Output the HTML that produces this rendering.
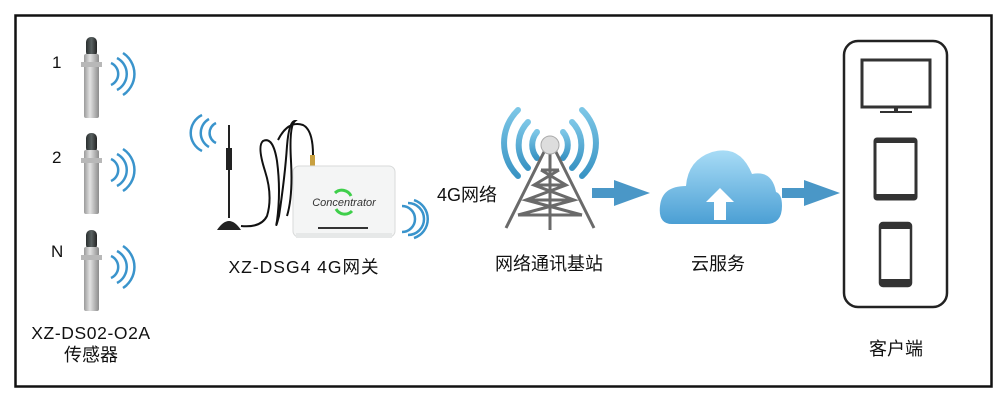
<!DOCTYPE html>
<html><head><meta charset="utf-8"><style>
html,body{margin:0;padding:0;background:#fff;width:1000px;height:401px;overflow:hidden}
svg{display:block}
text{font-family:"Liberation Sans","Noto Sans CJK SC",sans-serif;fill:#111}
</style></head><body>
<svg width="1000" height="401" viewBox="0 0 1000 401" xmlns="http://www.w3.org/2000/svg">
<defs>
<linearGradient id="metal" x1="0" x2="1"><stop offset="0" stop-color="#9a9a9a"/><stop offset=".4" stop-color="#e2e2e2"/><stop offset="1" stop-color="#8c8c8c"/></linearGradient>
<linearGradient id="cap" x1="0" x2="1"><stop offset="0" stop-color="#2a2f2f"/><stop offset=".5" stop-color="#5a6262"/><stop offset="1" stop-color="#222"/></linearGradient>
<linearGradient id="cloud" x1="0" y1="0" x2="0" y2="1"><stop offset="0" stop-color="#a8dcf6"/><stop offset="1" stop-color="#4b9fd4"/></linearGradient>
<linearGradient id="wave" x1="0" y1="0" x2="0" y2="1"><stop offset="0" stop-color="#7cc6e6"/><stop offset="1" stop-color="#3a94c4"/></linearGradient>
<g id="sensor">
<rect x="86" y="0" width="11" height="20" rx="5" fill="url(#cap)"/>
<rect x="84" y="17" width="15" height="64" rx="2" fill="url(#metal)"/>
<rect x="81" y="25" width="21" height="5" fill="#b8b8b8"/>
<path d="M111,26 a12,12 0 0 1 0,22" fill="none" stroke="#3a94cc" stroke-width="2.5"/>
<path d="M117,21 a18,18 0 0 1 0,32" fill="none" stroke="#3a94cc" stroke-width="2.5"/>
<path d="M123,16 a25,25 0 0 1 0,42" fill="none" stroke="#3a94cc" stroke-width="2.5"/>
</g>
</defs>
<rect x="15.5" y="15.5" width="976" height="371" fill="none" stroke="#111" stroke-width="2.5"/>

<use href="#sensor" y="37"/>
<use href="#sensor" y="133"/>
<use href="#sensor" y="230"/>
<text x="52" y="68" font-size="17">1</text>
<text x="52" y="163" font-size="17">2</text>
<text x="51" y="257" font-size="17">N</text>
<text x="91" y="339" font-size="17.5" text-anchor="middle" letter-spacing="0.6">XZ-DS02-O2A</text>
<text x="91" y="361" font-size="18" text-anchor="middle">传感器</text>

<g fill="none" stroke="#3a94cc" stroke-width="2.5">
<path d="M202,115 a20,20 0 0 0 0,36"/><path d="M209,119 a16,16 0 0 0 0,28"/><path d="M216,123 a11,11 0 0 0 0,20"/>
<path d="M402,206 a10,10 0 0 1 0,26"/><path d="M408,203 a15,15 0 0 1 0,32"/><path d="M414,200 a20,20 0 0 1 0,38"/>
</g>
<line x1="229" y1="125" x2="229" y2="218" stroke="#222" stroke-width="2"/>
<rect x="226" y="148" width="6" height="22" fill="#222"/>
<path d="M217,230 q12,-18 24,0 z" fill="#222"/>
<path d="M241,226 q20,2 26,-10 q6,-20 -2,-45 q-8,-25 -2,-30 q10,-5 14,20 q4,30 0,60 q-2,10 2,-5 q6,-40 8,-70 q2,-25 8,-25 q-6,5 -4,40 q2,35 -4,55 M278,140 q10,-20 25,-15 q10,5 10,30" fill="none" stroke="#111" stroke-width="2"/>
<rect x="310" y="155" width="5" height="13" fill="#c8a040"/>
<rect x="293" y="166" width="102" height="71" rx="6" fill="#f4f5f5" stroke="#d8dada"/>
<rect x="296" y="233" width="96" height="5" fill="#e6e8e8"/>
<text x="344" y="206" font-size="11" text-anchor="middle" font-style="italic" style="fill:#333">Concentrator</text>
<path d="M335,193 a10,10 0 0 1 16,3" fill="none" stroke="#3ecf4a" stroke-width="3"/>
<path d="M336,209 a10,10 0 0 0 16,2" fill="none" stroke="#3ecf4a" stroke-width="3"/>
<rect x="318" y="227" width="50" height="2" fill="#333"/>
<text x="304" y="273" font-size="17.5" text-anchor="middle" letter-spacing="1">XZ-DSG4 4G网关</text>

<text x="437" y="201" font-size="18">4G网络</text>
<g fill="none" stroke="url(#wave)" stroke-width="6" stroke-linecap="round">
<path d="M537,132 a20,20 0 0 0 0,26"/><path d="M563,132 a20,20 0 0 1 0,26"/>
<path d="M528,122 a33,33 0 0 0 0,46"/><path d="M572,122 a33,33 0 0 1 0,46"/>
<path d="M518,110 a46,46 0 0 0 0,66"/><path d="M582,110 a46,46 0 0 1 0,66"/>
</g>
<g stroke="#6a6a6a" stroke-width="3" fill="none">
<path d="M545,150 L506,228 M555,150 L594,228 M550,150 L550,230"/>
<path d="M541,170 L559,170 M534,185 L566,185 M526,200 L574,200 M518,215 L582,215"/>
<path d="M541,170 L566,185 L526,200 L582,215 M559,170 L534,185 L574,200 L518,215"/>
</g>
<circle cx="550" cy="145" r="9" fill="#ddd" stroke="#aaa"/>
<text x="549" y="270" font-size="18" text-anchor="middle">网络通讯基站</text>

<path d="M592,188 h22 v-8 l36,13 l-36,13 v-8 h-22 z" fill="#4a97c7"/>
<path d="M782,188 h22 v-8 l36,13 l-36,13 v-8 h-22 z" fill="#4a97c7"/>

<path d="M672,224 q-14,0 -12,-18 q2,-20 26,-20 q2,-26 26,-34 q28,-8 40,22 q20,-4 24,18 q6,2 6,14 q0,18 -16,18 z" fill="url(#cloud)"/>
<path d="M714,220 v-18 h-8 l14,-14 l14,14 h-8 v18 z" fill="#fff"/>
<text x="718" y="270" font-size="18" text-anchor="middle">云服务</text>

<rect x="844" y="41" width="103" height="266" rx="14" fill="none" stroke="#222" stroke-width="2.5"/>
<rect x="862" y="60" width="68" height="47" fill="none" stroke="#333" stroke-width="3"/>
<rect x="894" y="107" width="4" height="5" fill="#333"/>
<rect x="880" y="111" width="32" height="2" fill="#333"/>
<rect x="875" y="139" width="41" height="60" rx="2" fill="none" stroke="#333" stroke-width="3"/>
<rect x="875" y="139" width="41" height="4" fill="#333"/><rect x="875" y="194" width="41" height="5" fill="#333"/>
<rect x="880" y="223" width="31" height="63" rx="3" fill="none" stroke="#333" stroke-width="2.5"/>
<rect x="880" y="223" width="31" height="6" fill="#333"/><rect x="880" y="279" width="31" height="7" fill="#333"/>
<text x="896" y="355" font-size="18" text-anchor="middle">客户端</text>
</svg>
</body></html>
